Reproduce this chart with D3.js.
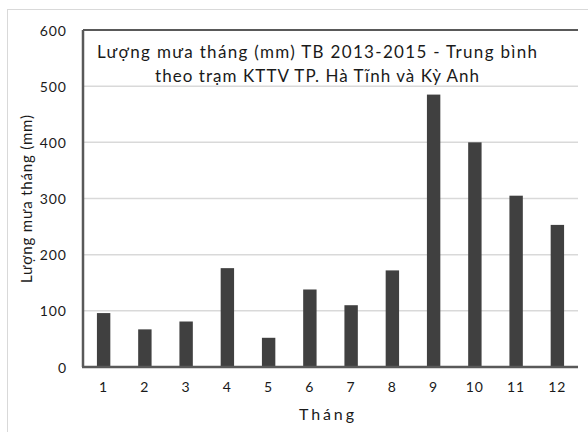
<!DOCTYPE html>
<html>
<head>
<meta charset="utf-8">
<script src="https://cdn.jsdelivr.net/npm/d3@7"></script>
<style>
  html, body { margin: 0; padding: 0; background: #ffffff; }
  svg { display: block; }
  text { font-family: Lato, "Noto Sans", sans-serif; fill: #1a1a1a; }
</style>
</head>
<body>
<svg id="chart" width="588" height="432"></svg>
<script>
// Monthly rainfall (mm), average 2013–2015
const months = ["1", "2", "3", "4", "5", "6", "7", "8", "9", "10", "11", "12"];
const rainfall = [96, 67, 81, 176, 52, 138, 110, 172, 485, 400, 305, 253];
const yTicks = [0, 100, 200, 300, 400, 500, 600];
const titleLines = [
  "Lượng mưa tháng (mm) TB 2013-2015 - Trung bình",
  "theo trạm KTTV TP. Hà Tĩnh và Kỳ Anh"
];
const titleWidths = [440, 324];
const yTitle = "Lượng mưa tháng (mm)";
const xTitle = "Tháng";

const svg = d3.select("#chart");
const margin = { left: 83, right: 10, top: 30, bottom: 65 };
const W = 588, H = 432;
const plotW = W - margin.left - margin.right;
const plotH = H - margin.top - margin.bottom;

// chart area border (right and bottom edges fall outside the canvas)
svg.append("rect")
  .attr("x", 7.5).attr("y", 9.5)
  .attr("width", W).attr("height", H)
  .attr("fill", "#ffffff")
  .attr("stroke", "#d9d9d9").attr("stroke-width", 1);

const x = d3.scaleBand().domain(months).range([0, plotW]).paddingInner(0.675).paddingOuter(0.3375);
const y = d3.scaleLinear().domain([0, 600]).range([plotH, 0]);

const g = svg.append("g").attr("transform", `translate(${margin.left},${margin.top})`);

// gridlines
g.append("g").selectAll("line")
  .data(yTicks.filter(d => d > 0 && d < 600))
  .join("line")
  .attr("x1", 0).attr("x2", plotW)
  .attr("y1", d => y(d)).attr("y2", d => y(d))
  .attr("stroke", "#d9d9d9").attr("stroke-width", 1.5);

// bars
g.append("g").selectAll("rect")
  .data(rainfall)
  .join("rect")
  .attr("x", (d, i) => x(months[i]))
  .attr("y", d => y(d))
  .attr("width", x.bandwidth())
  .attr("height", d => plotH - y(d))
  .attr("fill", "#404040");

// frame lines: left axis, top, baseline
const axisColor = "#595959";
g.append("line").attr("x1", 0).attr("x2", 0).attr("y1", y(600)).attr("y2", y(0))
  .attr("stroke", axisColor).attr("stroke-width", 2.5);
g.append("line").attr("x1", 0).attr("x2", plotW).attr("y1", y(600)).attr("y2", y(600))
  .attr("stroke", axisColor).attr("stroke-width", 2);
g.append("line").attr("x1", -1).attr("x2", plotW).attr("y1", y(0)).attr("y2", y(0))
  .attr("stroke", axisColor).attr("stroke-width", 2.5);

// y axis labels
const yAxis = d3.axisLeft(y).tickValues(yTicks).tickSize(0).tickPadding(16);
const yg = g.append("g").call(yAxis);
yg.select(".domain").remove();
yg.selectAll("text")
  .style("font-size", "14px").style("font-family", "Lato, sans-serif")
  .style("letter-spacing", "1px")
  .attr("dy", "0.36em")
  .attr("fill", "#1a1a1a");

// x axis labels
const xAxis = d3.axisBottom(x).tickSize(0).tickPadding(15);
const xg = g.append("g").attr("transform", `translate(0,${plotH})`).call(xAxis);
xg.select(".domain").remove();
xg.selectAll("text")
  .style("font-size", "14px").style("font-family", "Lato, sans-serif")
  .style("letter-spacing", "1px")
  .attr("fill", "#1a1a1a");

// title
titleLines.forEach((t, i) => {
  svg.append("text")
    .attr("x", 317 - titleWidths[i] / 2).attr("y", 58 + i * 24)
    .attr("textLength", titleWidths[i])
    .attr("lengthAdjust", "spacing")
    .style("font-size", "17px")
    .text(t);
});

// axis titles
svg.append("text")
  .attr("transform", `translate(32,283) rotate(-90)`)
  .attr("textLength", 168)
  .attr("lengthAdjust", "spacing")
  .style("font-size", "15px")
  .text(yTitle);

svg.append("text")
  .attr("x", 299).attr("y", 420)
  .attr("textLength", 55)
  .attr("lengthAdjust", "spacing")
  .style("font-size", "16px")
  .text(xTitle);
</script>
</body>
</html>
